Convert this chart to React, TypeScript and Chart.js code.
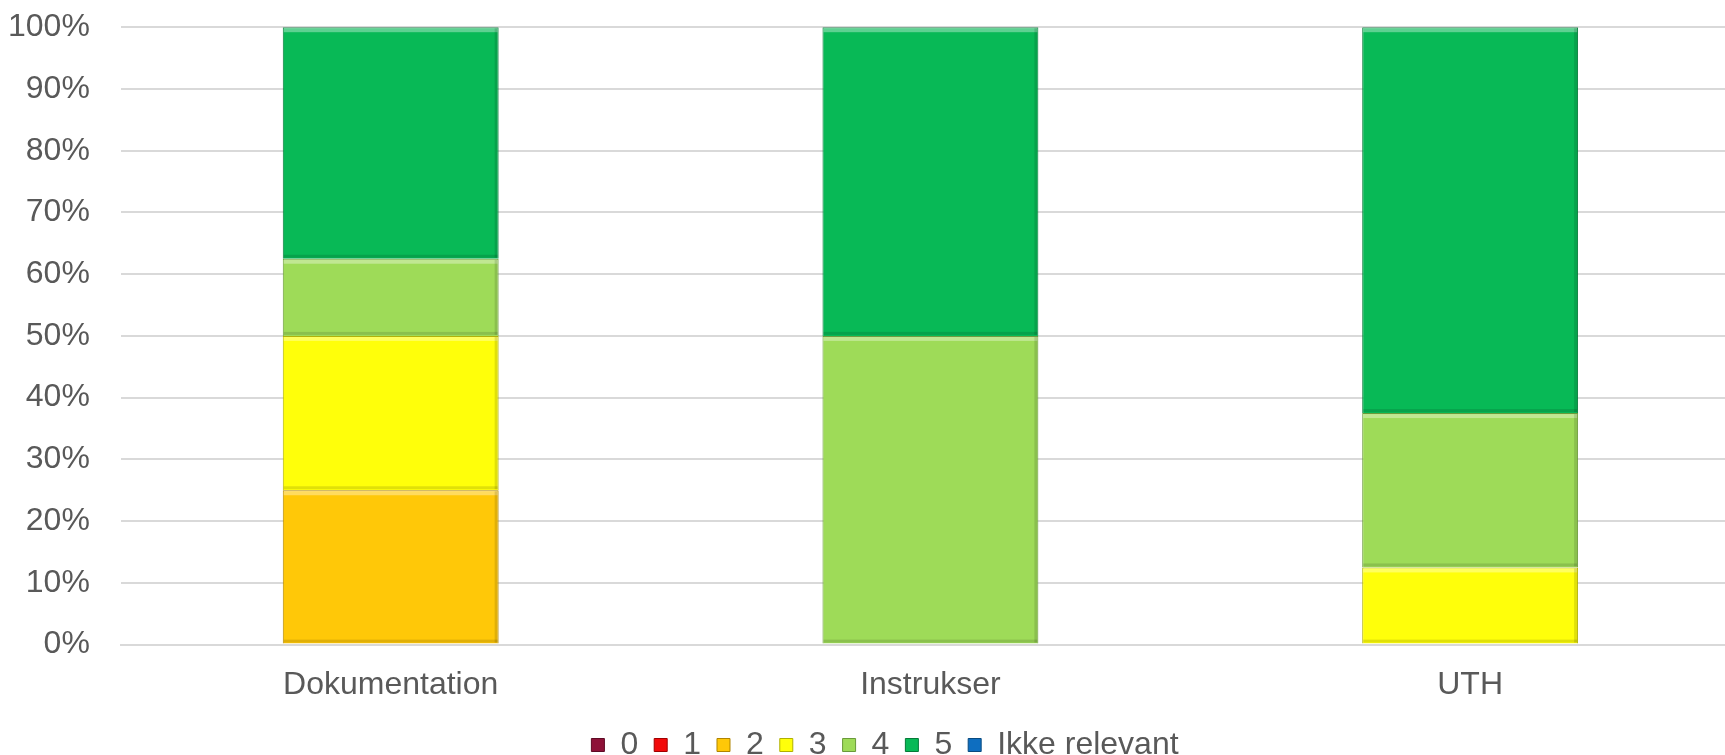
import React, { useEffect, useRef } from "react";
import { Chart, registerables } from "chart.js";

Chart.register(...registerables);

const categories = ["Dokumentation", "Instrukser", "UTH"];
const seriesNames = ["0", "1", "2", "3", "4", "5", "Ikke relevant"];
const s0 = [0, 0, 0];
const s1 = [0, 0, 0];
const s2 = [25, 0, 0];
const s3 = [25, 0, 12.5];
const s4 = [12.5, 50, 25];
const s5 = [37.5, 50, 62.5];
const sIkke = [0, 0, 0];
const yTicks = [0, 10, 20, 30, 40, 50, 60, 70, 80, 90, 100];

const fills = ["#8E1238", "#F20A0A", "#FFC808", "#FFFF0A", "#9EDB58", "#08B956", "#0E6EC0"];
const borders = ["#5E0A24", "#A00000", "#B08400", "#B0B000", "#6A9A3A", "#057A38", "#084A80"];

const FONT = "'Liberation Sans', Arial, sans-serif";

const bevel = {
  id: "bevel",
  afterDatasetsDraw(chart: any) {
    const ctx = chart.ctx;
    chart.data.datasets.forEach((_ds: any, i: number) => {
      const meta = chart.getDatasetMeta(i);
      if (meta.hidden) return;
      meta.data.forEach((el: any) => {
        const { x, y, base, width } = el.getProps(["x", "y", "base", "width"], true);
        const h = base - y;
        if (h <= 1) return;
        const l = x - width / 2;
        const r = x + width / 2;
        ctx.save();
        ctx.fillStyle = "rgba(255,255,255,0.35)";
        ctx.fillRect(l + 1, y + 1, width - 2, 4);
        ctx.fillStyle = "rgba(0,0,0,0.12)";
        ctx.fillRect(l + 1, base - 4, width - 2, 3);
        ctx.fillRect(r - 4, y + 1, 3, h - 2);
        ctx.restore();
      });
    });
  },
};

const legendShift = {
  id: "legendShift",
  afterLayout(chart: any) {
    const lg = chart.legend;
    if (!lg) return;
    lg.left += 15;
    lg.right += 15;
    lg.top -= 12;
    lg.bottom -= 12;
  },
};

export default function App() {
  const ref = useRef<HTMLCanvasElement | null>(null);
  useEffect(() => {
    document.body.style.margin = "0";
    document.body.style.overflow = "hidden";
    const data = [s0, s1, s2, s3, s4, s5, sIkke];
    const chart = new Chart(ref.current as HTMLCanvasElement, {
      type: "bar",
      data: {
        labels: categories,
        datasets: seriesNames.map((name, i) => ({
          label: name,
          data: data[i],
          backgroundColor: fills[i],
          borderColor: borders[i],
          borderWidth: 1,
          barPercentage: 0.4,
          categoryPercentage: 1,
        })),
      },
      options: {
        animation: false,
        responsive: true,
        maintainAspectRatio: false,
        layout: { padding: { left: 0, right: 0, top: 0, bottom: 0 } },
        scales: {
          x: {
            stacked: true,
            grid: { display: false, drawTicks: false },
            border: { display: true, color: "#d9d9d9", width: 2 },
            ticks: { color: "#595959", font: { family: FONT, size: 32 }, padding: 21 },
          },
          y: {
            stacked: true,
            min: 0,
            max: 100,
            afterBuildTicks: (axis: any) => {
              axis.ticks = yTicks.map((v) => ({ value: v }));
            },
            grid: { color: "#d9d9d9", lineWidth: 2, drawTicks: true, tickLength: 23, tickColor: "rgba(0,0,0,0)" },
            border: { display: false },
            ticks: {
              color: "#595959",
              font: { family: FONT, size: 32 },
              padding: 8,
              callback: (v: any) => v + "%",
            },
          },
        },
        plugins: {
          legend: {
            position: "bottom",
            labels: {
              color: "#595959",
              font: { family: FONT, size: 32 },
              boxWidth: 13,
              boxHeight: 13,
              padding: 16,
            },
          },
          tooltip: { enabled: false },
        },
      },
      plugins: [bevel, legendShift],
    });
    return () => chart.destroy();
  }, []);
  return (
    <div style={{ width: 1740, height: 783, position: "relative" }}>
      <canvas ref={ref} />
    </div>
  );
}
